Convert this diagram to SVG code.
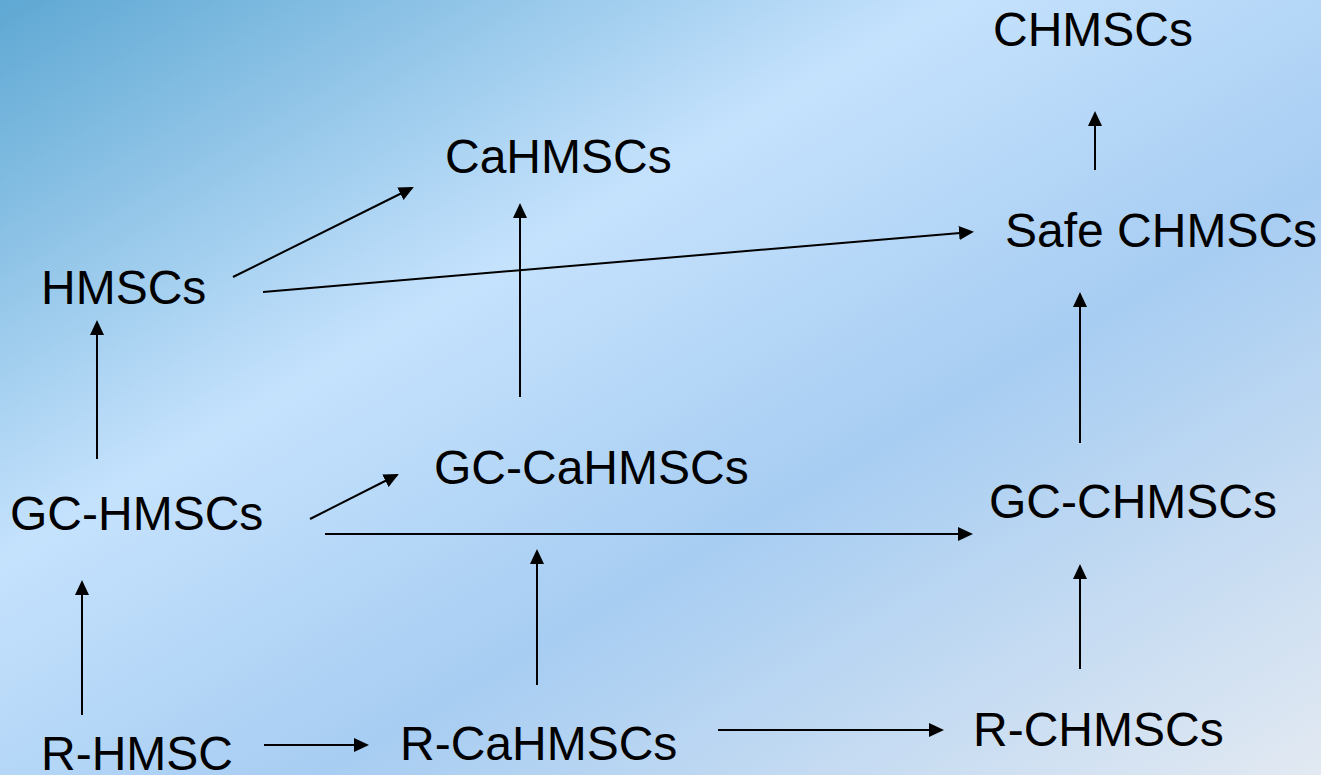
<svg xmlns="http://www.w3.org/2000/svg" width="1321" height="775" viewBox="0 0 1321 775">
  <defs>
    <linearGradient id="bg" x1="0" y1="0" x2="1" y2="1">
      <stop offset="0" stop-color="#5ea8d3"/>
      <stop offset="0.36" stop-color="#c5e2fd"/>
      <stop offset="0.62" stop-color="#a7cdf2"/>
      <stop offset="1" stop-color="#e2e9f2"/>
    </linearGradient>
    <marker id="arrow" markerUnits="userSpaceOnUse" markerWidth="16" markerHeight="14" refX="13" refY="7" orient="auto">
      <path d="M0,0 L15,7 L0,14 z" fill="#000"/>
    </marker>
  </defs>
  <style>
    .label { font-family: "Liberation Sans", Arial, sans-serif; font-size: 48px; fill: #000; }
    .edge { stroke: #000; stroke-width: 2; fill: none; marker-end: url(#arrow); }
  </style>

  <rect x="0" y="0" width="1321" height="775" fill="url(#bg)"/>

  <g id="connectors">
    <line class="edge" x1="233" y1="277" x2="412" y2="188"/>
    <line class="edge" x1="263" y1="292" x2="972" y2="232"/>
    <line class="edge" x1="1095" y1="170" x2="1095" y2="113"/>
    <line class="edge" x1="520" y1="397" x2="520" y2="205"/>
    <line class="edge" x1="97" y1="459" x2="97" y2="322"/>
    <line class="edge" x1="1080" y1="443" x2="1080" y2="294"/>
    <line class="edge" x1="310" y1="519" x2="397" y2="475"/>
    <line class="edge" x1="325" y1="534" x2="971" y2="534"/>
    <line class="edge" x1="82" y1="715" x2="82" y2="582"/>
    <line class="edge" x1="537" y1="685" x2="537" y2="551"/>
    <line class="edge" x1="1080" y1="669" x2="1080" y2="566"/>
    <line class="edge" x1="264" y1="745" x2="367" y2="745"/>
    <line class="edge" x1="718" y1="730" x2="942" y2="730"/>
  </g>

  <g id="node-chmscs"><text class="label" x="993" y="46">CHMSCs</text></g>
  <g id="node-cahmscs"><text class="label" x="445" y="173">CaHMSCs</text></g>
  <g id="node-safe-chmscs"><text class="label" x="1005" y="247">Safe CHMSCs</text></g>
  <g id="node-hmscs"><text class="label" x="41" y="304">HMSCs</text></g>
  <g id="node-gc-cahmscs"><text class="label" x="434" y="484">GC-CaHMSCs</text></g>
  <g id="node-gc-hmscs"><text class="label" x="10" y="530">GC-HMSCs</text></g>
  <g id="node-gc-chmscs"><text class="label" x="989" y="518">GC-CHMSCs</text></g>
  <g id="node-r-hmsc"><text class="label" x="41" y="770">R-HMSC</text></g>
  <g id="node-r-cahmscs"><text class="label" x="400" y="760">R-CaHMSCs</text></g>
  <g id="node-r-chmscs"><text class="label" x="973" y="746">R-CHMSCs</text></g>
</svg>
